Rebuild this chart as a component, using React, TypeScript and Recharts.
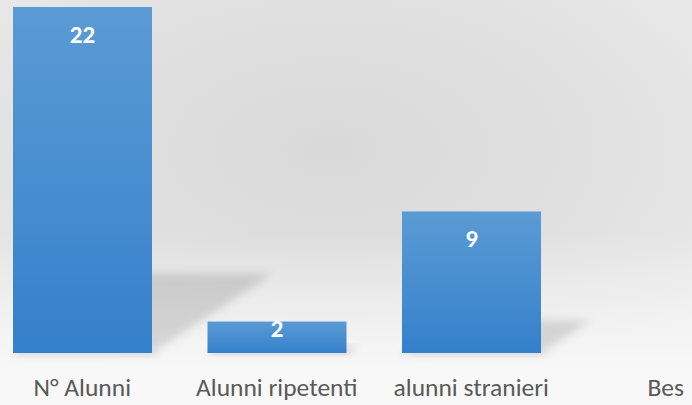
import { BarChart, Bar, XAxis, YAxis, LabelList } from "recharts"

const categories = ["N° Alunni", "Alunni ripetenti", "alunni stranieri", "Bes"]
const values: (number | null)[] = [22, 2, 9, null]
const yDomain = [0, 22]

const data = categories.map((name, i) => ({ name, value: values[i] }))

const FONT = "Carlito, 'Liberation Sans Narrow', 'DejaVu Sans Condensed', 'Open Sans', sans-serif"

// bar with a perspective shadow thrown to the right
const ShadowBar = (props: any) => {
  const { x, y, width, height } = props
  if (!height || height <= 0) return null
  const b = y + height
  const rise = height * 0.23
  const shift = height * 0.35
  const pts = [
    [x, b],
    [x + width, b],
    [x + width + shift, b - rise],
    [x + shift, b - rise],
  ]
    .map((p) => p.join(","))
    .join(" ")
  return (
    <g>
      <polygon points={pts} fill="#000" fillOpacity={0.13} filter="url(#soft)" />
      <rect x={x + 2} y={b - 2} width={width + 4} height={5} fill="#000" fillOpacity={0.06} filter="url(#soft)" />
      <rect x={x} y={y} width={width} height={height} fill="url(#barFill)" />
    </g>
  )
}

const ValueLabel = (props: any) => {
  const { x, y, width, height, value } = props
  if (value == null) return null
  return (
    <text
      x={x + width / 2}
      y={y + Math.min(36, height / 2)}
      textAnchor="middle"
      fill="#ffffff"
      fontFamily={FONT}
      fontWeight={700}
      fontSize={25}
    >
      {value}
    </text>
  )
}

const CategoryTick = (props: any) => {
  const { x, payload } = props
  return (
    <text x={x} y={396} textAnchor="middle" fill="#595959" fontFamily={FONT} fontSize={25.5}>
      {payload.value}
    </text>
  )
}

export default function App() {
  return (
    <div
      style={{
        position: "absolute",
        left: 0,
        top: 0,
        width: 692,
        height: 405,
        overflow: "hidden",
        background:
          "linear-gradient(to bottom, rgba(248,248,248,0) 58%, #f8f8f8 92%), radial-gradient(ellipse 460px 260px at 330px 150px, #d9d9d9 0%, #e0e0e0 55%, #e9e9e9 100%)",
      }}
    >
      <div style={{ position: "absolute", left: -15, top: 0 }}>
        <BarChart
          width={778}
          height={405}
          data={data}
          margin={{ top: 7, right: 0, bottom: 0, left: 0 }}
          barSize={139}
        >
          <defs>
            <linearGradient id="barFill" x1="0" y1="0" x2="0" y2="1">
              <stop offset="0%" stopColor="#5b9bd5" />
              <stop offset="100%" stopColor="#3580cb" />
            </linearGradient>
            <filter id="soft" x="-30%" y="-30%" width="160%" height="160%">
              <feGaussianBlur stdDeviation="4" />
            </filter>
          </defs>
          <XAxis
            dataKey="name"
            height={52}
            axisLine={false}
            tickLine={false}
            interval={0}
            tick={<CategoryTick />}
          />
          <YAxis hide domain={yDomain} />
          <Bar dataKey="value" shape={<ShadowBar />} isAnimationActive={false}>
            <LabelList dataKey="value" content={<ValueLabel />} />
          </Bar>
        </BarChart>
      </div>
    </div>
  )
}
